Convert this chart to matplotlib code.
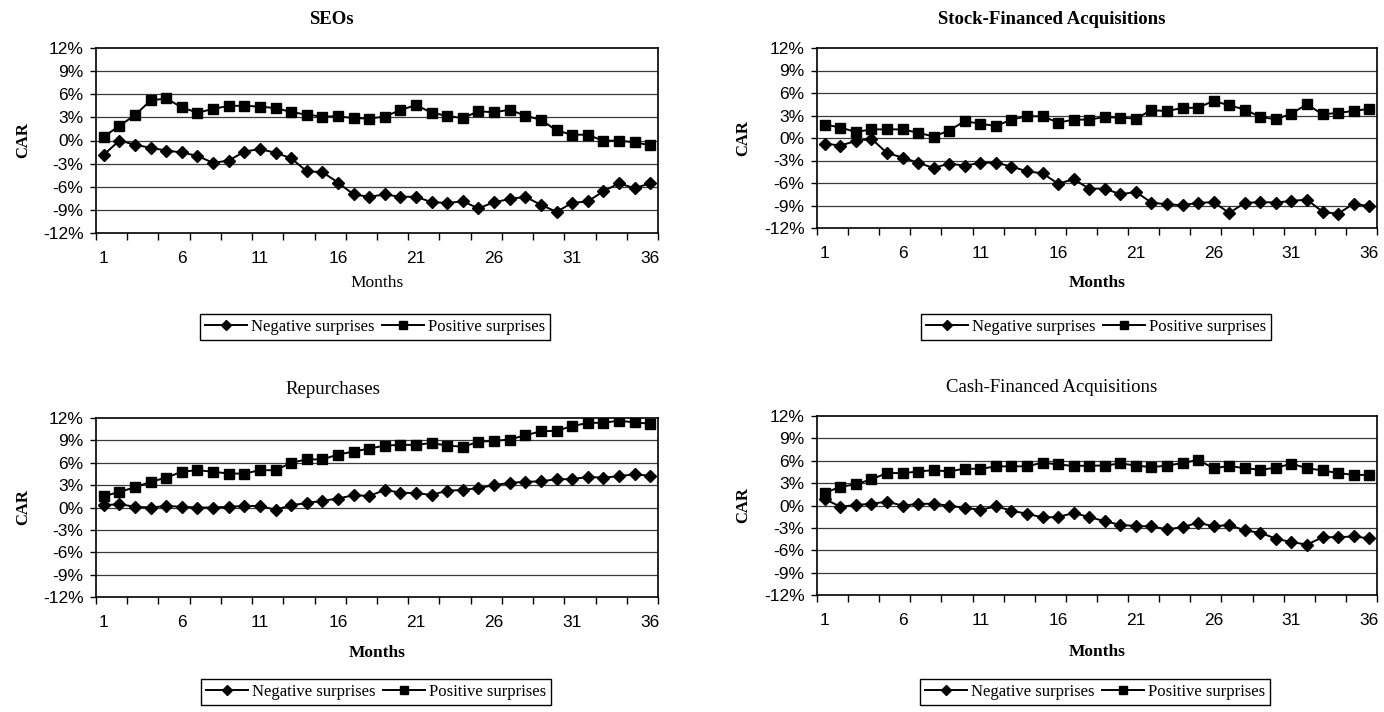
import matplotlib
matplotlib.use("Agg")
import matplotlib.pyplot as plt
import numpy as np

# Cumulative abnormal returns (%) by month after the event
months = list(range(1, 37))

seo_pos = [0.5, 1.9, 3.3, 5.2, 5.45, 4.3, 3.6, 4.1, 4.5, 4.5, 4.4, 4.2, 3.7, 3.35, 3.1, 3.15,
           2.9, 2.85, 3.1, 3.95, 4.6, 3.6, 3.2, 2.9, 3.8, 3.65, 4.0, 3.2, 2.7, 1.3, 0.75, 0.75,
           -0.05, 0.0, -0.25, -0.6]
seo_neg = [-1.85, 0.0, -0.55, -0.95, -1.3, -1.55, -2.0, -2.9, -2.6, -1.45, -1.1, -1.6, -2.3, -4.0,
           -4.1, -5.45, -7.0, -7.3, -7.0, -7.3, -7.3, -8.0, -8.1, -7.9, -8.8, -8.0, -7.6, -7.3,
           -8.35, -9.25, -8.1, -7.9, -6.6, -5.55, -6.2, -5.55]

stock_pos = [1.8, 1.4, 0.8, 1.15, 1.15, 1.15, 0.7, 0.2, 1.0, 2.25, 1.9, 1.6, 2.45, 2.9, 2.9, 2.05,
             2.45, 2.45, 2.8, 2.7, 2.6, 3.7, 3.6, 4.0, 4.05, 4.95, 4.35, 3.8, 2.8, 2.5, 3.25, 4.5,
             3.15, 3.35, 3.6, 3.9]
stock_neg = [-0.75, -1.0, -0.4, -0.1, -2.0, -2.6, -3.3, -4.0, -3.4, -3.7, -3.3, -3.3, -3.8, -4.45,
             -4.7, -6.1, -5.5, -6.75, -6.75, -7.5, -7.2, -8.6, -8.85, -8.95, -8.65, -8.55, -10.0,
             -8.65, -8.55, -8.6, -8.4, -8.2, -9.85, -10.1, -8.75, -9.1]

rep_pos = [1.5, 2.1, 2.7, 3.45, 4.0, 4.8, 5.0, 4.8, 4.55, 4.55, 5.0, 5.0, 6.0, 6.45, 6.45, 7.1,
           7.5, 7.9, 8.3, 8.4, 8.4, 8.65, 8.3, 8.15, 8.8, 8.95, 9.1, 9.7, 10.2, 10.3, 10.9, 11.35,
           11.35, 11.65, 11.4, 11.25]
rep_neg = [0.3, 0.45, 0.1, 0.0, 0.2, 0.1, 0.0, 0.0, 0.1, 0.2, 0.2, -0.3, 0.3, 0.6, 0.9, 1.2,
           1.65, 1.55, 2.35, 2.0, 1.9, 1.7, 2.25, 2.35, 2.6, 3.0, 3.3, 3.45, 3.5, 3.8, 3.8, 4.1,
           4.0, 4.2, 4.45, 4.25]

cash_pos = [1.7, 2.5, 2.85, 3.5, 4.35, 4.35, 4.55, 4.75, 4.55, 4.95, 4.9, 5.25, 5.25, 5.25, 5.75,
            5.5, 5.3, 5.35, 5.35, 5.65, 5.35, 5.15, 5.35, 5.7, 6.1, 5.0, 5.3, 5.0, 4.8, 5.05, 5.6,
            5.0, 4.7, 4.35, 4.1, 4.1]
cash_neg = [0.85, -0.15, 0.05, 0.25, 0.5, 0.0, 0.2, 0.25, -0.05, -0.3, -0.6, -0.1, -0.7, -1.1,
            -1.6, -1.55, -1.0, -1.55, -2.1, -2.6, -2.75, -2.8, -3.2, -2.9, -2.3, -2.8, -2.6,
            -3.35, -3.65, -4.45, -4.9, -5.25, -4.25, -4.25, -4.15, -4.4]

titles = ["SEOs", "Stock-Financed Acquisitions", "Repurchases", "Cash-Financed Acquisitions"]
ytick_values = [-12, -9, -6, -3, 0, 3, 6, 9, 12]
ytick_labels = ["-12%", "-9%", "-6%", "-3%", "0%", "3%", "6%", "9%", "12%"]
xtick_values = [1, 6, 11, 16, 21, 26, 31, 36]
legend_labels = ["Negative surprises", "Positive surprises"]

W, H = 1384, 712
fig = plt.figure(figsize=(W / 100, H / 100), dpi=100)
fig.patch.set_facecolor("white")

SERIF = ["Liberation Serif", "DejaVu Serif"]
SANS = ["Liberation Sans", "DejaVu Sans"]


def fx(px):
    return px / W


def fy(py):
    return 1 - py / H


# panel geometry in pixels: left, top, right, bottom
panels = [
    dict(box=(96, 48, 658, 233), neg=seo_neg, pos=seo_pos, title=titles[0], tbold=True,
         tpos=(331, 20), mbold=False, mpos=(377, 283), cpos=(23, 140), lpos=(375, 327)),
    dict(box=(817, 48, 1377, 228), neg=stock_neg, pos=stock_pos, title=titles[1], tbold=True,
         tpos=(1052, 20), mbold=True, mpos=(1097, 283), cpos=(743, 138), lpos=(1096, 327)),
    dict(box=(96, 418, 658, 597), neg=rep_neg, pos=rep_pos, title=titles[2], tbold=False,
         tpos=(333, 390), mbold=True, mpos=(377, 653), cpos=(23, 507), lpos=(376, 692)),
    dict(box=(817, 416, 1377, 595), neg=cash_neg, pos=cash_pos, title=titles[3], tbold=False,
         tpos=(1052, 388), mbold=True, mpos=(1097, 652), cpos=(743, 505), lpos=(1095, 692)),
]

for p in panels:
    l, t, r, b = p["box"]
    ax = fig.add_axes([fx(l), fy(b), (r - l) / W, (b - t) / H])
    ax.set_xlim(0.5, 36.5)
    ax.set_ylim(-12, 12)

    for v in ytick_values[1:-1]:
        ax.axhline(v, color="#3a3a3a", lw=0.9, zorder=1)

    h1, = ax.plot(months, p["neg"], color="black", lw=1.4, marker="D", ms=5.8,
                  mfc="black", mec="black", zorder=3)
    h2, = ax.plot(months, p["pos"], color="black", lw=1.4, marker="s", ms=6.8,
                  mfc="black", mec="black", zorder=3)

    ax.set_yticks(ytick_values)
    ax.set_yticklabels(ytick_labels, fontfamily=SANS, fontsize=12.5)
    ax.set_xticks(xtick_values)
    ax.set_xticklabels([str(m) for m in xtick_values], fontfamily=SANS, fontsize=12.5)
    ax.set_xticks(np.arange(0.5, 36.6, 2), minor=True)
    ax.tick_params(axis="x", which="major", length=0, pad=13)
    ax.tick_params(axis="x", which="minor", length=5, width=1.0, direction="out")
    ax.tick_params(axis="y", which="major", length=4, width=1.0, direction="out", pad=5)

    for s in ax.spines.values():
        s.set_color("black")
        s.set_linewidth(1.2)

    fig.text(fx(p["tpos"][0]), fy(p["tpos"][1]), p["title"], ha="center", va="center",
             fontfamily=SERIF, fontsize=13.5, fontweight="bold" if p["tbold"] else "normal")
    fig.text(fx(p["mpos"][0]), fy(p["mpos"][1]), "Months", ha="center", va="center",
             fontfamily=SERIF, fontsize=12.5, fontweight="bold" if p["mbold"] else "normal")
    fig.text(fx(p["cpos"][0]), fy(p["cpos"][1]), "CAR", ha="center", va="center",
             rotation=90, fontfamily=SERIF, fontsize=12, fontweight="bold")

    leg = fig.legend([h1, h2], legend_labels, loc="center",
                     bbox_to_anchor=(fx(p["lpos"][0]), fy(p["lpos"][1])), ncol=2,
                     frameon=True, fancybox=False, edgecolor="black", framealpha=1,
                     prop=dict(family=SERIF, size=12), handlelength=2.5, handletextpad=0.25,
                     columnspacing=0.45, borderpad=0.3, borderaxespad=0, markerscale=0.8)
    leg.get_frame().set_linewidth(1.0)

fig.savefig("out.png", dpi=100, facecolor="white")
